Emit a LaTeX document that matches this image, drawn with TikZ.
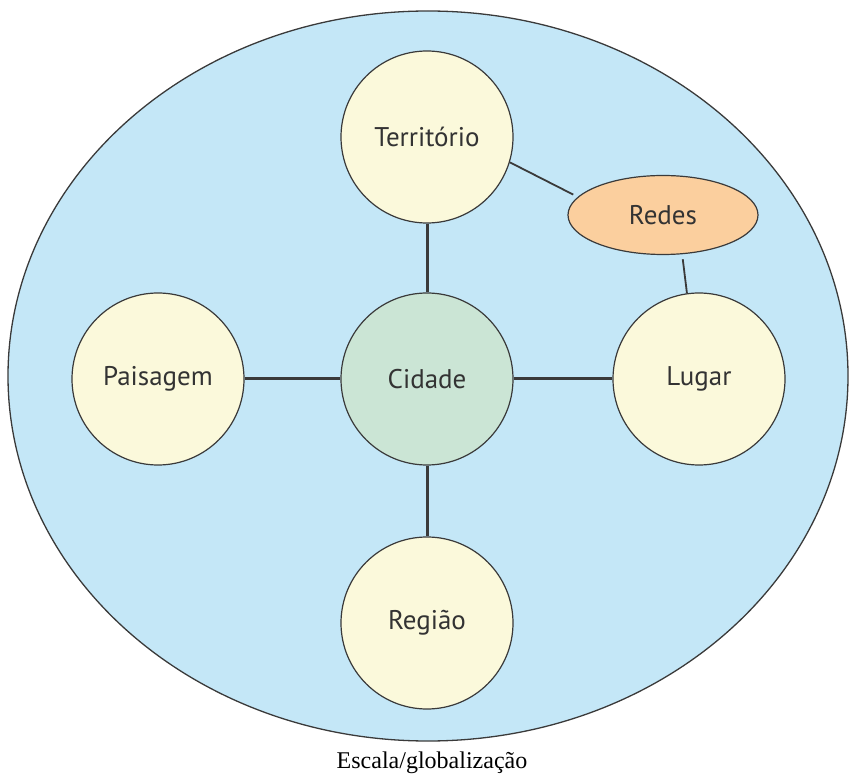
\documentclass[tikz,border=0pt]{standalone}
\usepackage{fontspec}
\setmainfont{Liberation Serif}
\newfontfamily\labelfont{PT Sans}
\usetikzlibrary{shapes.geometric}
\definecolor{bgblue}{HTML}{C4E7F7}
\definecolor{cyellow}{HTML}{FBF9DB}
\definecolor{cgreen}{HTML}{CBE5D5}
\definecolor{corange}{HTML}{FBCF9E}
\definecolor{edge}{HTML}{3A3A3A}
\definecolor{txt}{HTML}{333333}
\tikzset{
  concept/.style={circle, draw=edge, line width=1.2pt, minimum size=172pt, inner sep=0pt,
    fill=cyellow, text=txt, font=\labelfont\fontsize{27}{32}\selectfont},
  link/.style={draw=edge, line width=3pt},
  thinlink/.style={draw=edge, line width=1.8pt},
}
\begin{document}
\begin{tikzpicture}[x=1pt,y=-1pt]
\useasboundingbox (0,0) rectangle (849,775);
\node[ellipse, draw=edge, line width=1.3pt, fill=bgblue, minimum width=840pt, minimum height=730pt, inner sep=0pt] (world) at (428,376) {};
\node[concept] (terr) at (427,137) {Território};
\node[concept, fill=cgreen] (cid) at (427,379) {Cidade};
\node[concept] (pais) at (158,379) {Paisagem};
\node[concept] (lug) at (699,379) {Lugar};
\node[concept] (reg) at (427,623) {Região};
\node[ellipse, draw=edge, line width=1.2pt, fill=corange, minimum width=190pt, minimum height=79pt, inner sep=0pt, text=txt, font=\labelfont\fontsize{27}{32}\selectfont] (redes) at (663,215) {Redes};
\draw[link] (terr) -- (cid);
\draw[link] (cid) -- (reg);
\draw[link] (pais) -- (cid);
\draw[link] (cid) -- (lug);
\draw[thinlink, shorten >=5pt] (terr.-17) -- (redes.168);
\draw[thinlink, shorten <=5pt] (redes.-64) -- (lug.98);
\node[font=\fontsize{24}{28}\selectfont, anchor=base, text=black] (scale) at (432,768) {Escala/globalização};
\end{tikzpicture}
\end{document}
